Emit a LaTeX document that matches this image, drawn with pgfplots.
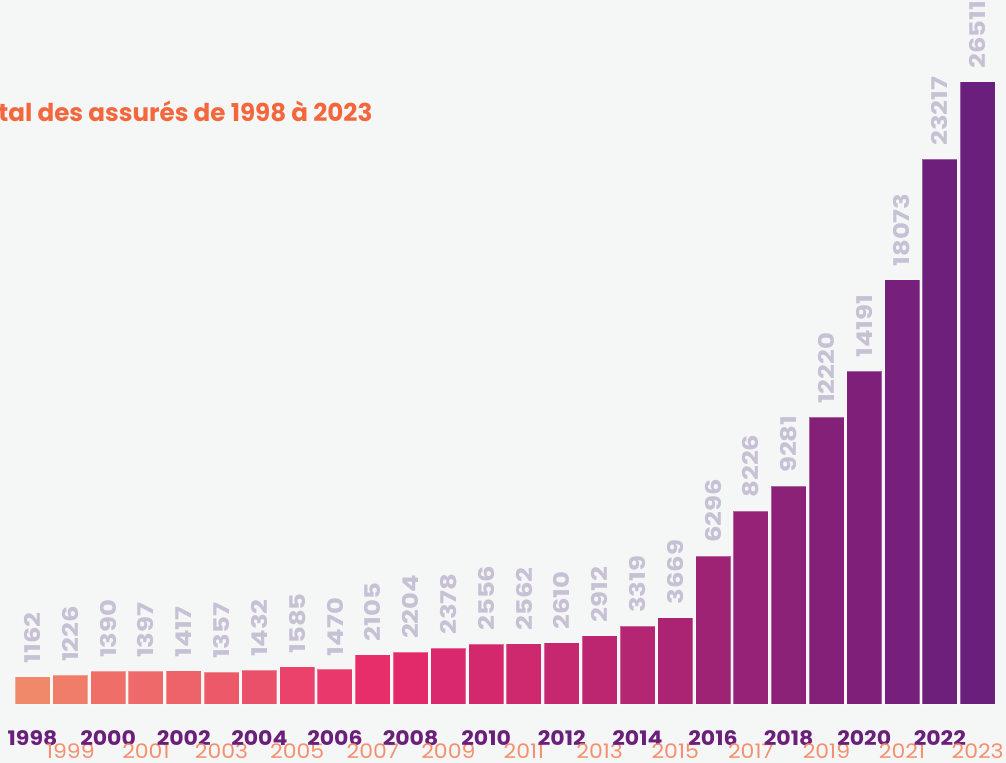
\documentclass[border=0pt]{standalone}
\usepackage{pgfplots}
\pgfplotsset{compat=1.18}
\usepackage{fontspec}
\setmainfont{Poppins}
\newfontfamily\widefont[FakeStretch=1.1]{Poppins}
\newfontfamily\valfont[FakeStretch=1.2]{Poppins}
\usetikzlibrary{backgrounds}

\definecolor{bgc}{HTML}{F5F6F6}
\definecolor{evc}{HTML}{6A1F7A}
\definecolor{odc}{HTML}{F4906F}
\definecolor{valc}{HTML}{C6C1D4}
\definecolor{titlec}{HTML}{F2683C}

% bar colours, left to right
\definecolor{c98}{HTML}{F0896A}
\definecolor{c99}{HTML}{F07D6A}
\definecolor{c00}{HTML}{EF6F68}
\definecolor{c01}{HTML}{EE696A}
\definecolor{c02}{HTML}{EE626A}
\definecolor{c03}{HTML}{EC5A6A}
\definecolor{c04}{HTML}{EB506A}
\definecolor{c05}{HTML}{EA426A}
\definecolor{c06}{HTML}{E9386A}
\definecolor{c07}{HTML}{E72E6B}
\definecolor{c08}{HTML}{E22A6A}
\definecolor{c09}{HTML}{DA286C}
\definecolor{c10}{HTML}{D4286D}
\definecolor{c11}{HTML}{CE286E}
\definecolor{c12}{HTML}{C6286F}
\definecolor{c13}{HTML}{BC2670}
\definecolor{c14}{HTML}{B42572}
\definecolor{c15}{HTML}{AA2473}
\definecolor{c16}{HTML}{9E2375}
\definecolor{c17}{HTML}{962277}
\definecolor{c18}{HTML}{8C2178}
\definecolor{c19}{HTML}{852079}
\definecolor{c20}{HTML}{7E207A}
\definecolor{c21}{HTML}{761F7B}
\definecolor{c22}{HTML}{6E1F7C}
\definecolor{c23}{HTML}{6B1F7C}

\newcommand\ev[1]{\textcolor{evc}{\bfseries #1}}
\newcommand\od[1]{\raisebox{-6.2pt}{\textcolor{odc}{#1}}}
\newcommand\bb[3]{\addplot[fill=#3, bar shift=0pt] coordinates {(#1,#2) [#2]};}

\begin{document}
\begin{tikzpicture}
\begin{axis}[
  name=ax,
  scale only axis,
  width=503pt, height=352pt,
  xmin=-0.86, xmax=25.75,
  ymin=0, ymax=30000,
  enlargelimits=false,
  clip=false,
  ybar, bar width=0.926,
  every axis plot/.append style={draw=white, draw opacity=0.3, line width=0.4pt},
  axis line style={draw=none},
  ytick=\empty,
  major tick length=0pt,
  xtick style={draw=none},
  xtick={0,...,25},
  xticklabels={\ev{1998},\od{1999},\ev{2000},\od{2001},\ev{2002},\od{2003},
    \ev{2004},\od{2005},\ev{2006},\od{2007},\ev{2008},\od{2009},\ev{2010},
    \od{2011},\ev{2012},\od{2013},\ev{2014},\od{2015},\ev{2016},\od{2017},
    \ev{2018},\od{2019},\ev{2020},\od{2021},\ev{2022},\od{2023}},
  xticklabel style={anchor=base, yshift=-21pt, inner sep=0pt,
    font=\widefont\fontsize{10}{12}\selectfont},
  point meta=explicit symbolic,
  nodes near coords={\pgfplotspointmeta},
  nodes near coords style={rotate=90, anchor=west, inner sep=0pt, inner xsep=6.5pt,
    text=valc, font=\valfont\bfseries\fontsize{10.8}{12}\selectfont},
]
\bb{0}{1162}{c98}
\bb{1}{1226}{c99}
\bb{2}{1390}{c00}
\bb{3}{1397}{c01}
\bb{4}{1417}{c02}
\bb{5}{1357}{c03}
\bb{6}{1432}{c04}
\bb{7}{1585}{c05}
\bb{8}{1470}{c06}
\bb{9}{2105}{c07}
\bb{10}{2204}{c08}
\bb{11}{2378}{c09}
\bb{12}{2556}{c10}
\bb{13}{2562}{c11}
\bb{14}{2610}{c12}
\bb{15}{2912}{c13}
\bb{16}{3319}{c14}
\bb{17}{3669}{c15}
\bb{18}{6296}{c16}
\bb{19}{8226}{c17}
\bb{20}{9281}{c18}
\bb{21}{12220}{c19}
\bb{22}{14191}{c20}
\bb{23}{18073}{c21}
\bb{24}{23217}{c22}
\bb{25}{26511}{c23}
\end{axis}
\begin{scope}[on background layer]
\fill[bgc] ([yshift=-29.5pt]ax.south west) rectangle (ax.north east);
\end{scope}
\node[anchor=base west, inner sep=0pt, text=titlec,
  font=\bfseries\fontsize{12.3}{14}\selectfont]
  at ([yshift=-61pt, xshift=-1pt]ax.north west) {tal des assurés de 1998 à 2023};
\pgfresetboundingbox
\path[use as bounding box] ([yshift=-29.5pt]ax.south west) rectangle (ax.north east);
\end{tikzpicture}
\end{document}
